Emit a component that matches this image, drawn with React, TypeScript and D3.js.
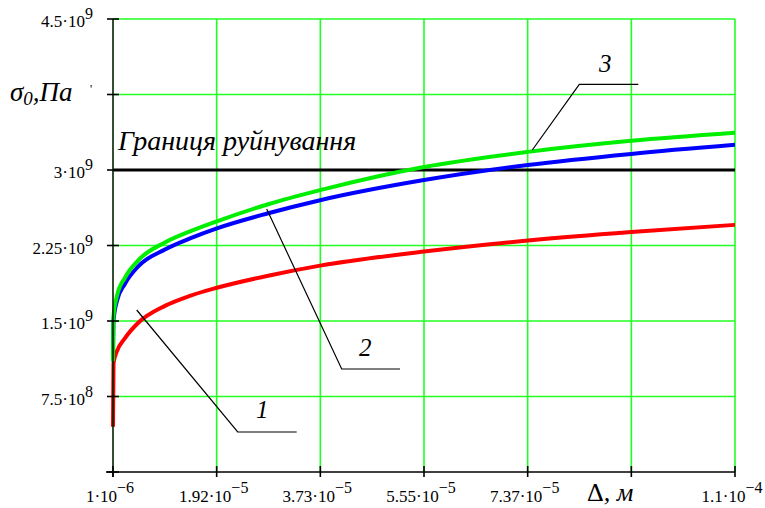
import React from "react";
import * as d3 from "d3";

// Δ (m) sample positions
const deltas = [1.0e-6, 1.09e-6, 1.7e-6, 3.1e-6, 5.38e-6, 1.01e-5, 1.45e-5, 1.92e-5, 2.82e-5, 3.73e-5, 5.55e-5, 7.37e-5, 9.18e-5, 1.1e-4];
// σ0 (Pa) curves
const curve1 = [0.45e9, 1.08e9, 1.2e9, 1.33e9, 1.48e9, 1.65e9, 1.75e9, 1.83e9, 1.95e9, 2.05e9, 2.19e9, 2.3e9, 2.385e9, 2.455e9];
const curve2 = [1.1e9, 1.5e9, 1.7e9, 1.87e9, 2.04e9, 2.21e9, 2.32e9, 2.42e9, 2.57e9, 2.7e9, 2.9e9, 3.05e9, 3.16e9, 3.25e9];
const curve3 = [1.1e9, 1.55e9, 1.75e9, 1.93e9, 2.1e9, 2.28e9, 2.39e9, 2.49e9, 2.66e9, 2.8e9, 3.03e9, 3.18e9, 3.29e9, 3.37e9];
const limitValue = 3e9;
const limitLabel = "Границя руйнування";

const xTicks = [1e-6, 1.9167e-5, 3.7333e-5, 5.55e-5, 7.3667e-5, 9.1833e-5, 1.1e-4];
const xTickMant = ["1·10", "1.92·10", "3.73·10", "5.55·10", "7.37·10", "", "1.1·10"];
const xTickExp = ["−6", "−5", "−5", "−5", "−5", "", "−4"];
const yTicks = [0, 7.5e8, 1.5e9, 2.25e9, 3e9, 3.75e9, 4.5e9];
const yTickMant = ["", "7.5·10", "1.5·10", "2.25·10", "3·10", "", "4.5·10"];
const yTickExp = ["", "8", "9", "9", "9", "", "9"];

const W = 765, H = 508;
const serif = "Liberation Serif, Times New Roman, serif";

export default function App() {
  const x = d3.scaleLinear().domain([1e-6, 1.1e-4]).range([113, 735]);
  const y = d3.scaleLinear().domain([0, 4.5e9]).range([472, 19]);
  const line = d3
    .line<number>()
    .x((_, i) => x(deltas[i]))
    .y((v) => y(v))
    .curve(d3.curveMonotoneX);

  const [x0, x1] = x.range();
  const [yb, yt] = y.range();
  const series = [
    { vals: curve1, color: "#ff0000" },
    { vals: curve2, color: "#0000ff" },
    { vals: curve3, color: "#00ee00" },
  ];
  const grid = "#22ff22";
  const tstyle: React.CSSProperties = { fontFamily: serif };

  return (
    <svg width={W} height={H} style={{ display: "block", position: "absolute", left: 0, top: 0, background: "#fff", fontFamily: serif }}>
      <defs>
        <clipPath id="plot">
          <rect x={x0 - 2} y={yt} width={x1 - x0 + 2} height={yb - yt} />
        </clipPath>
      </defs>
      {/* grid */}
      {yTicks.slice(1).map((t) => (
        <line key={"gy" + t} x1={x0} x2={x1} y1={y(t)} y2={y(t)} stroke={grid} strokeWidth={1.6} />
      ))}
      {xTicks.slice(1).map((t) => (
        <line key={"gx" + t} x1={x(t)} x2={x(t)} y1={yt} y2={yb} stroke={grid} strokeWidth={1.6} />
      ))}
      {/* limit line */}
      <line x1={x0} x2={x1} y1={y(limitValue)} y2={y(limitValue)} stroke="#000" strokeWidth={2.8} />
      {/* curves */}
      <g clipPath="url(#plot)">
        {series.map((s, i) => (
          <path key={i} d={line(s.vals) || ""} fill="none" stroke={s.color} strokeWidth={4} strokeLinejoin="round" />
        ))}
      </g>
      {/* axes */}
      <line x1={x0} x2={x0} y1={yt} y2={yb + 5} stroke="#002200" strokeWidth={1.6} />
      <line x1={x0 - 7} x2={x1} y1={yb} y2={yb} stroke="#000" strokeWidth={1.6} />
      {yTicks.map((t) => (
        <line key={"ty" + t} x1={x0 - 6} x2={x0 + 6} y1={y(t)} y2={y(t)} stroke="#000" strokeWidth={1.6} />
      ))}
      {xTicks.map((t) => (
        <line key={"tx" + t} x1={x(t)} x2={x(t)} y1={yb - 6} y2={yb + 5} stroke="#000" strokeWidth={1.6} />
      ))}
      {/* y tick labels */}
      {yTicks.map((t, i) =>
        yTickMant[i] ? (
          <text key={"ly" + t} x={93} y={y(t) + 8} textAnchor="end" style={tstyle} fontSize={17} fill="#000">
            {yTickMant[i]}
            <tspan dy={-8} fontSize={16}>{yTickExp[i]}</tspan>
          </text>
        ) : null
      )}
      {/* x tick labels */}
      {xTicks.map((t, i) =>
        xTickMant[i] ? (
          <text key={"lx" + t} x={x(t) - 3} y={502} textAnchor="middle" style={tstyle} fontSize={17} fill="#000">
            {xTickMant[i]}
            <tspan dy={-9} fontSize={16}>{xTickExp[i]}</tspan>
          </text>
        ) : null
      )}
      {/* axis titles */}
      <text x={587} y={501} style={tstyle} fontSize={26} fill="#000">
        Δ<tspan fontStyle="italic">, м</tspan>
      </text>
      <text x={10} y={101} style={tstyle} fontSize={27} fontStyle="italic" fill="#000">
        σ<tspan fontSize={19} dy={4}>0</tspan>
        <tspan dy={-4}>,Па</tspan>
      </text>
      <text x={90} y={93} style={tstyle} fontSize={12} fill="#000">'</text>
      {/* limit label */}
      <text x={118} y={150} style={tstyle} fontSize={28} fontStyle="italic" fill="#000">
        {limitLabel}
      </text>
      {/* leaders */}
      <polyline points="136.7,310 237.7,432 296.7,432" fill="none" stroke="#000" strokeWidth={1.2} />
      <text x={256} y={418} style={tstyle} fontSize={25} fontStyle="italic">1</text>
      <polyline points="266.7,209 341.7,369 400,369" fill="none" stroke="#000" strokeWidth={1.2} />
      <text x={359} y={356} style={tstyle} fontSize={25} fontStyle="italic">2</text>
      <polyline points="532.3,150 579.3,84.3 638.3,84.3" fill="none" stroke="#000" strokeWidth={1.2} />
      <text x={599} y={72} style={tstyle} fontSize={25} fontStyle="italic">3</text>
    </svg>
  );
}
